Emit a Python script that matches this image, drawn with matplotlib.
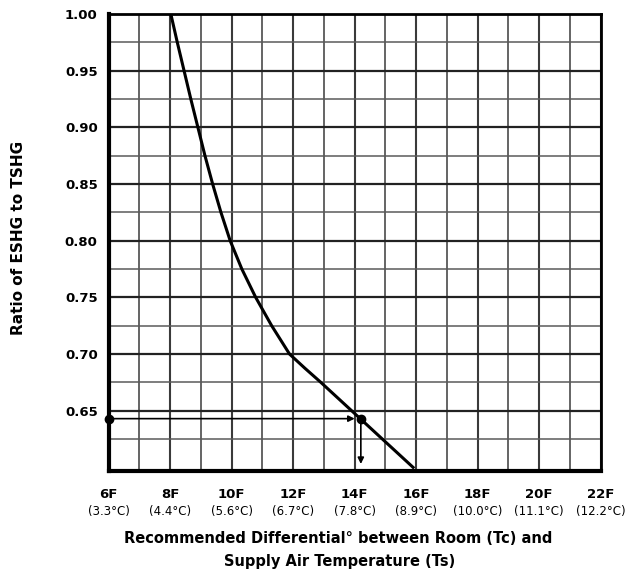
import matplotlib
matplotlib.use("Agg")
import matplotlib.pyplot as plt
import numpy as np

# curve
diff_f = [8.02, 8.23, 8.45, 8.67, 8.9, 9.13, 9.38, 9.65, 9.95, 10.33, 10.78,
          11.3, 11.88, 12.38, 12.9, 13.9, 14.9, 15.9]
ratio = [1.00, 0.975, 0.95, 0.925, 0.90, 0.875, 0.85, 0.825, 0.80, 0.775, 0.75,
         0.725, 0.70, 0.6875, 0.675, 0.65, 0.625, 0.60]

# example reading
ex_ratio = 0.643
ex_diff = 14.2

tick_f = [6, 8, 10, 12, 14, 16, 18, 20, 22]
tick_c = ["3.3", "4.4", "5.6", "6.7", "7.8", "8.9", "10.0", "11.1", "12.2"]
ytick_vals = [0.65, 0.70, 0.75, 0.80, 0.85, 0.90, 0.95, 1.00]

plt.rcParams['font.family'] = ['DejaVu Sans']

fig = plt.figure(figsize=(6.25, 5.87), dpi=100)
ax = fig.add_axes([0.174, 0.198, 0.787, 0.778])

ax.set_xlim(6, 22)
ax.set_ylim(0.597, 1.0)

# grid
for f in range(6, 23):
    lw = 1.5 if f % 2 == 0 else 1.1
    ax.axvline(f, color="#3a3a3a", lw=lw, zorder=1)
for v in np.arange(0.625, 1.0, 0.025):
    major = abs(round(v / 0.05) * 0.05 - v) < 1e-6
    ax.axhline(v, color="#222222" if major else "#5a5a5a",
               lw=1.6 if major else 1.1, zorder=1)

for side in ["left", "bottom"]:
    ax.spines[side].set_linewidth(3)
for side in ["top", "right"]:
    ax.spines[side].set_linewidth(2)

ax.plot(diff_f, ratio, color="black", lw=2.2, zorder=3,
        solid_joinstyle="round")

# example lines with arrows
ax.annotate("", xy=(ex_diff - 0.2, ex_ratio), xytext=(6, ex_ratio),
            arrowprops=dict(arrowstyle="-|>", color="black", lw=1.2,
                            mutation_scale=9, shrinkA=0, shrinkB=0), zorder=4)
ax.annotate("", xy=(ex_diff, 0.603), xytext=(ex_diff, ex_ratio),
            arrowprops=dict(arrowstyle="-|>", color="black", lw=1.2,
                            mutation_scale=9, shrinkA=0, shrinkB=0), zorder=4)
ax.plot([6, ex_diff], [ex_ratio, ex_ratio], "o", color="black", ms=6,
        clip_on=False, zorder=5)

ax.set_yticks(ytick_vals)
ax.set_yticklabels([f"{v:.2f}" for v in ytick_vals], fontweight="bold", fontsize=9.5)
ax.set_xticks(tick_f)
ax.set_xticklabels([])
ax.tick_params(length=0, pad=8)

for f, c in zip(tick_f, tick_c):
    ax.text(f, -0.053, f"{f}F", transform=ax.get_xaxis_transform(),
            ha="center", va="center", fontweight="bold", fontsize=9.5)
    ax.text(f, -0.09, f"({c}°C)", transform=ax.get_xaxis_transform(),
            ha="center", va="center", fontsize=8.5)

fig.text(0.03, 0.594, "Ratio of ESHG to TSHG", rotation=90, ha="center",
         va="center", fontweight="bold", fontsize=11)
fig.text(0.541, 0.082, "Recommended Differential° between Room (Tc) and",
         ha="center", va="center", fontweight="bold", fontsize=10.5)
fig.text(0.543, 0.044, "Supply Air Temperature (Ts)",
         ha="center", va="center", fontweight="bold", fontsize=10.5)

fig.savefig("out.png", dpi=100)
